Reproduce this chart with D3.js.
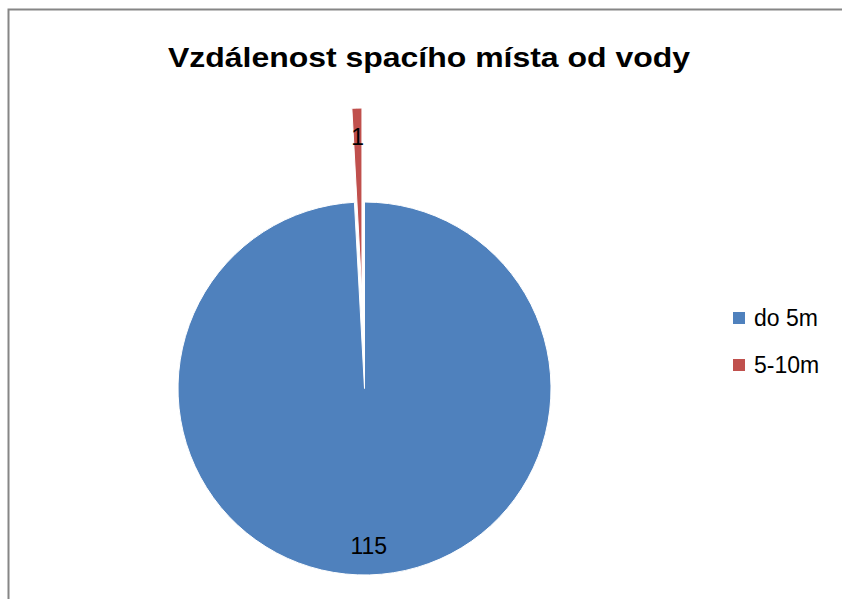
<!DOCTYPE html>
<html><head><meta charset="utf-8">
<script src="https://cdn.jsdelivr.net/npm/d3@7"></script>
<style>body{margin:0;background:#fff}svg{display:block}</style>
</head><body>
<script>
const title = "Vzdálenost spacího místa od vody";
const categories = ["do 5m", "5-10m"];
const values = [115, 1];
const colors = ["#4F81BD", "#C0504D"];

const W = 842, H = 599;
const svg = d3.select("body").append("svg").attr("width", W).attr("height", H);
const font = "'Liberation Sans', Arial, sans-serif";

// frame
svg.append("path").attr("d", `M8.5,${H} V9.5 H${W}`).attr("fill","none").attr("stroke","#868686").attr("stroke-width",2);

svg.append("text").attr("x", 429).attr("y", 67).attr("text-anchor","middle")
  .attr("font-family", font).attr("font-weight","bold").attr("font-size", 27)
  .attr("textLength", 522).attr("lengthAdjust","spacingAndGlyphs")
  .text(title);

const cx = 364.5, cy = 388.5, R = 186.5;
const pie = d3.pie().sort(null).value(d => d)(values);
const arc = d3.arc().innerRadius(0).outerRadius(R);
const labelArc = d3.arc().innerRadius(R*0.845).outerRadius(R*0.845);
const explode = [0, 94];

const g = svg.append("g").attr("transform", `translate(${cx},${cy})`);
const slices = g.selectAll("g.s").data(pie).join("g").attr("class","s")
  .attr("transform", (d,i) => {
    const a = (d.startAngle + d.endAngle)/2;
    return `translate(${Math.sin(a)*explode[i]},${-Math.cos(a)*explode[i]})`;
  });
slices.append("path").attr("d", arc).attr("fill", (d,i) => colors[i])
  .attr("stroke","#fff").attr("stroke-width",1);
slices.append("text")
  .attr("x", d => labelArc.centroid(d)[0]).attr("y", d => labelArc.centroid(d)[1])
  .attr("dy","0.35em").attr("text-anchor","middle")
  .attr("font-family", font).attr("font-size", 23).attr("fill","#000")
  .text(d => d.data);

const leg = svg.append("g");
categories.forEach((c,i) => {
  const y = 312 + i*47;
  leg.append("rect").attr("x", 733).attr("y", y).attr("width", 12).attr("height", 12).attr("fill", colors[i]);
  leg.append("text").attr("x", 754).attr("y", y+6).attr("dy","0.36em")
    .attr("font-family", font).attr("font-size", 23).text(c);
});
</script>
</body></html>
